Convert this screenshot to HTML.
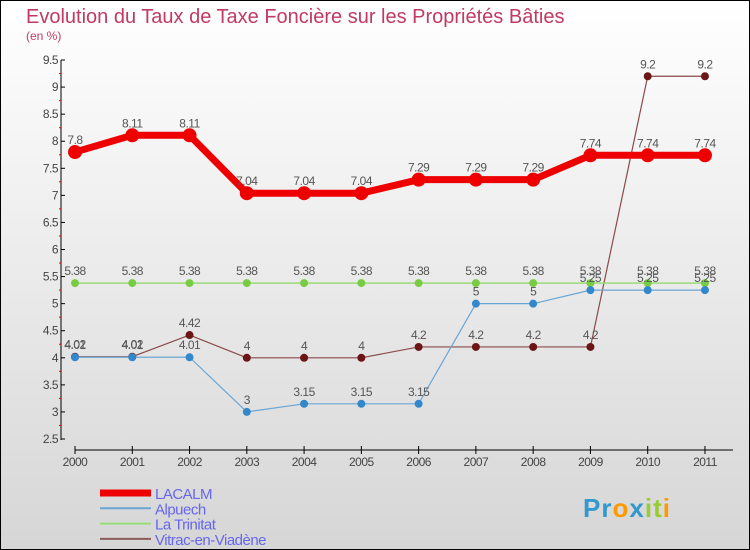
<!DOCTYPE html>
<html><head><meta charset="utf-8"><style>
body{margin:0}
#c{width:750px;height:550px;position:relative;box-sizing:border-box;border:1px solid #000;background:linear-gradient(#ffffff,#d6d6d6);overflow:hidden;font-family:"Liberation Sans",sans-serif}
</style></head><body>
<div id="c">
<svg id="s" width="750" height="550" style="position:absolute;left:-1px;top:-1px">
<text x="26" y="23" font-size="20" fill="#c03a64">Evolution du Taux de Taxe Foncière sur les Propriétés Bâties</text>
<text x="26" y="40" font-size="12" fill="#c03a64">(en %)</text>
</svg>
</div>
<script>
const years=["2000","2001","2002","2003","2004","2005","2006","2007","2008","2009","2010","2011"];
const yTicks=[2.5,3,3.5,4,4.5,5,5.5,6,6.5,7,7.5,8,8.5,9,9.5];
const lacalm=[7.8,8.11,8.11,7.04,7.04,7.04,7.29,7.29,7.29,7.74,7.74,7.74];
const alpuech=[4.01,4.01,4.01,3,3.15,3.15,3.15,5,5,5.25,5.25,5.25];
const trinitat=[5.38,5.38,5.38,5.38,5.38,5.38,5.38,5.38,5.38,5.38,5.38,5.38];
const vitrac=[4.02,4.02,4.42,4,4,4,4.2,4.2,4.2,4.2,9.2,9.2];
const seriesNames=["LACALM","Alpuech","La Trinitat","Vitrac-en-Viadène"];
const NS="http://www.w3.org/2000/svg",s=document.getElementById('s');
const X=i=>75+i*57.27, Y=v=>439-(v-2.5)*54.14;
function mk(t,a,p){const e=document.createElementNS(NS,t);for(const k in a)e.setAttribute(k,a[k]);(p||s).appendChild(e);return e;}
// axes
let ya=mk('line',{x1:61,y1:60,x2:61,y2:440,stroke:'#000','stroke-width':1});


yTicks.forEach(v=>{
 mk('line',{x1:61,y1:Y(v),x2:65,y2:Y(v),stroke:'#000'});
 mk('line',{x1:59,y1:Y(v+0.25),x2:61,y2:Y(v+0.25),stroke:v<9.5?'#e00':'none'});
 const t=mk('text',{x:58,y:Y(v)+4,'font-size':12,fill:'#444','text-anchor':'end','letter-spacing':'-0.5'});
 t.textContent=String(v);
 
 
});
let xa=mk('line',{x1:75,y1:450,x2:733,y2:450,stroke:'#000'});


years.forEach((y,i)=>{
 mk('line',{x1:X(i),y1:446,x2:X(i),y2:454,stroke:'#000'});
 const t=mk('text',{x:X(i),y:466,'font-size':12,fill:'#444','text-anchor':'middle','letter-spacing':'-0.5'});
 t.textContent=y;
 
 
});
function series(data,col,dot,w,r,name){
 const g=mk('g',{});
 
 
 mk('polyline',{points:data.map((v,i)=>X(i)+','+Y(v)).join(' '),fill:'none',stroke:col,'stroke-width':w,'stroke-linejoin':'round'},g);
 data.forEach((v,i)=>{
  const c=mk('circle',{cx:X(i),cy:Y(v),r:r,fill:dot},g);
  
  
  const t=mk('text',{x:X(i),y:Y(v)-8,'font-size':12,fill:'#555','text-anchor':'middle','letter-spacing':'-0.5'},g);
  t.textContent=String(v);
  
  
 });
}
series(vitrac,'#8b4a4a','#6b1616',1.2,4,'vitrac');
series(trinitat,'#99dd77','#77cc44',1.5,4,'trinitat');
series(alpuech,'#6aa6d4','#3388cc',1.2,4,'alpuech');
series(lacalm,'#ee0000','#ee0000',7,7,'lacalm');
// legend
const lc=['#ee0000','#6aa6d4','#99dd77','#8b5a5a'],lw=[7,2,2,2];
seriesNames.forEach((n,i)=>{
 const y=493+i*15.3;
 const g=mk('g',{});
 
 
 mk('line',{x1:100,y1:y,x2:151,y2:y,stroke:lc[i],'stroke-width':lw[i]},g);
 const t=mk('text',{x:155,y:y+6,'font-size':15,fill:'#6666ee','letter-spacing':'-0.5'},g);
 t.textContent=n;
});
// logo
const lg=mk('text',{x:583,y:517,'font-size':26,'font-weight':'bold','letter-spacing':'1'});


[['P','#3399cc'],['r','#3399cc'],['o','#ff9900'],['x','#3399cc'],['i','#99cc33'],['t','#99cc33'],['i','#ff9900']].forEach(([c,f])=>{const sp=mk('tspan',{fill:f},lg);sp.textContent=c;});
</script>
</body></html>
